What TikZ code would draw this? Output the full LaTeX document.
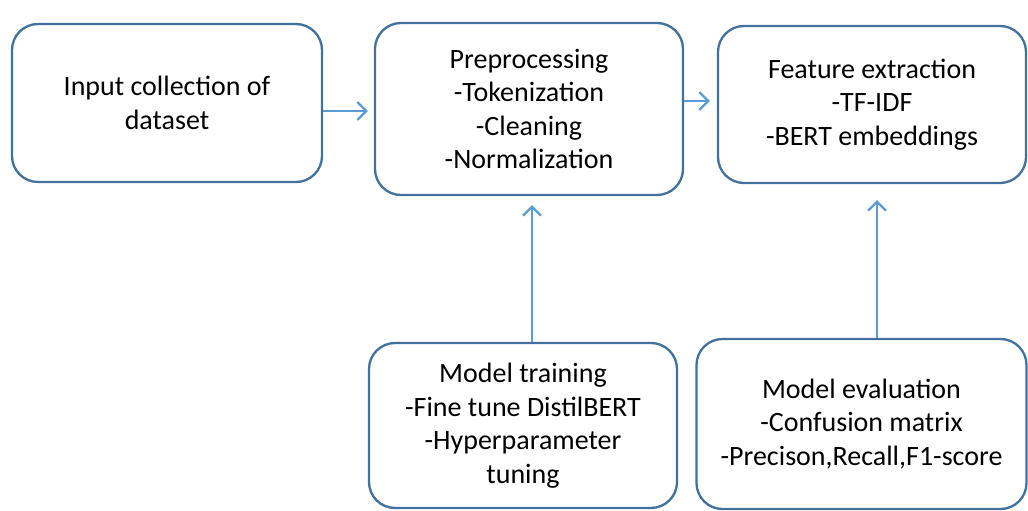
\documentclass[tikz,border=0pt]{standalone}
\usepackage{fontspec}
\setmainfont{Carlito}
\usetikzlibrary{arrows.meta}
\definecolor{boxblue}{RGB}{65,113,156}
\definecolor{arrblue}{RGB}{91,155,213}
\begin{document}
\begin{tikzpicture}[x=1pt,y=-1pt,
  box/.style={draw=boxblue, line width=2.3pt, rounded corners=26pt, fill=white,
    align=center, inner sep=0pt, font=\fontsize{28}{33.5}\selectfont},
  arr/.style={draw=arrblue, line width=2.2pt, -{Straight Barb[length=9pt,width=18pt,line width=2.2pt]}}]
\useasboundingbox (0,0) rectangle (1028,511);
\node[box, minimum width=310pt, minimum height=158pt] (in) at (167,103) {Input collection of\\dataset};
\node[box, minimum width=308pt, minimum height=172pt] (pre) at (529,109) {Preprocessing\\-Tokenization\\-Cleaning\\-Normalization};
\node[box, minimum width=308pt, minimum height=157pt] (feat) at (872,104.5) {Feature extraction\\-TF-IDF\\-BERT embeddings};
\node[box, minimum width=308pt, minimum height=165pt] (train) at (523,425.5) {Model training\\-Fine tune DistilBERT\\-Hyperparameter\\tuning};
\node[box, minimum width=330pt, minimum height=170pt] (eval) at (861.5,424) {Model evaluation\\-Confusion matrix\\-Precison,Recall,F1-score};
\coordinate (a1) at (in.east |- 0,111);
\coordinate (a2) at (pre.east |- 0,101);
\coordinate (b1) at (532,0);
\coordinate (b2) at (877,0);
\draw[arr, shorten >=6pt] (a1) -- (a1 -| pre.west);
\draw[arr, shorten >=7pt] (a2) -- (a2 -| feat.west);
\draw[arr, shorten >=9pt] (b1 |- train.north) -- (b1 |- pre.south);
\draw[arr, shorten >=16pt] (b2 |- eval.north) -- (b2 |- feat.south);
\end{tikzpicture}
\end{document}
